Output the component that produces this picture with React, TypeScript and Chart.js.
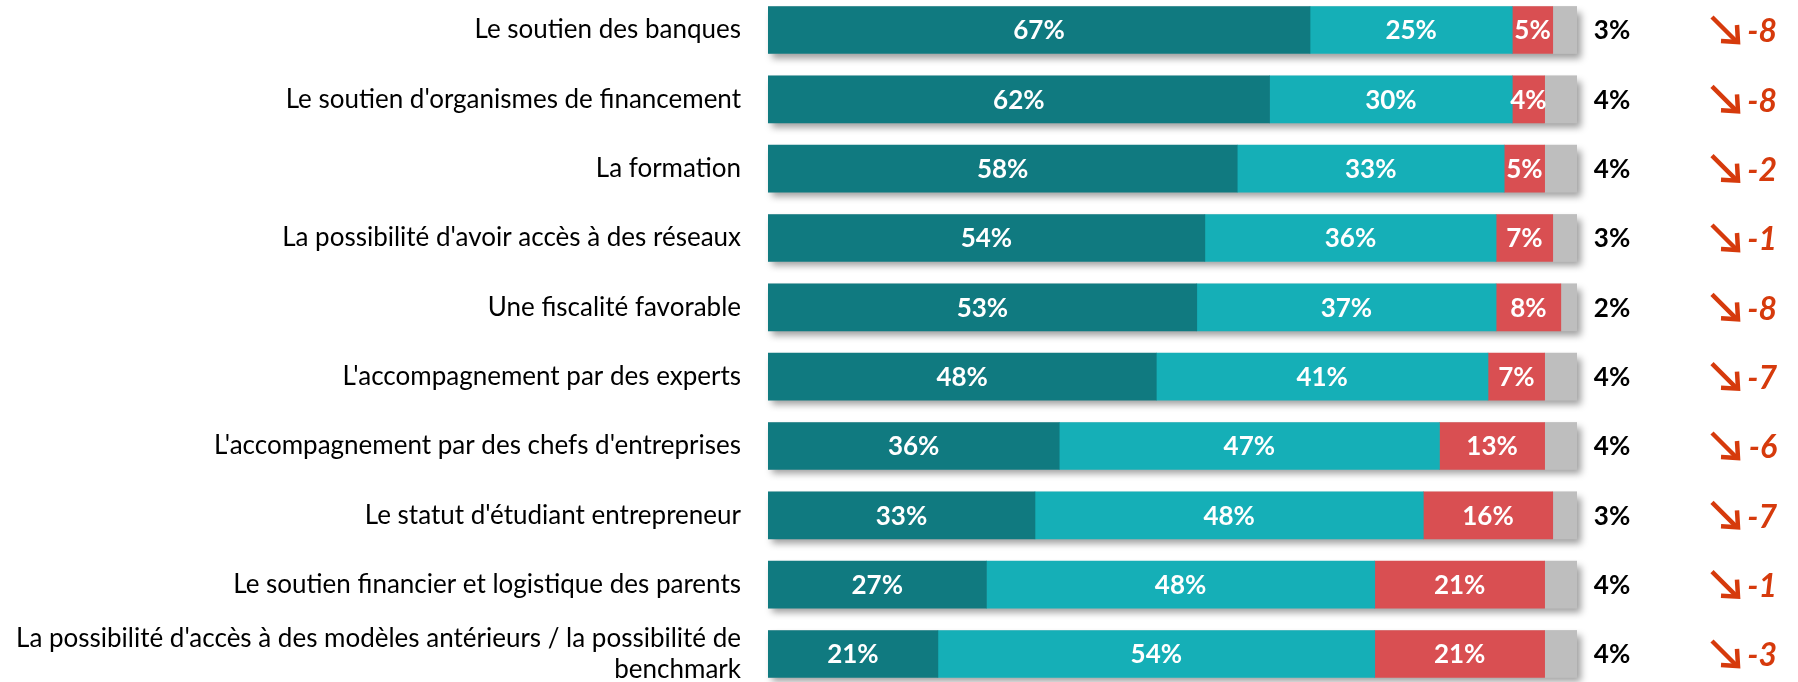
import React, { useEffect, useRef } from "react";
import { Chart, registerables } from "chart.js";

Chart.register(...registerables);

const categories: (string | string[])[] = [
  "Le soutien des banques",
  "Le soutien d'organismes de financement",
  "La formation",
  "La possibilité d'avoir accès à des réseaux",
  "Une fiscalité favorable",
  "L'accompagnement par des experts",
  "L'accompagnement par des chefs d'entreprises",
  "Le statut d'étudiant entrepreneur",
  "Le soutien financier et logistique des parents",
  ["La possibilité d'accès à des modèles antérieurs / la possibilité de", "benchmark"],
];

const seriesNames = ["Tout à fait", "Plutôt", "Pas vraiment", "Pas du tout"];
const valuesA = [67, 62, 58, 54, 53, 48, 36, 33, 27, 21];
const valuesB = [25, 30, 33, 36, 37, 41, 47, 48, 48, 54];
const valuesC = [5, 4, 5, 7, 8, 7, 13, 16, 21, 21];
const valuesD = [3, 4, 4, 3, 2, 4, 4, 3, 4, 4];
const deltas = [-8, -8, -2, -1, -8, -7, -6, -7, -1, -3];

const colors = ["#107A80", "#15AFB7", "#D94F52", "#BEBEBE"];
const deltaColor = "#D63A0C";
const FONT = "Lato, 'Open Sans', sans-serif";

const shadowPlugin = {
  id: "barShadow",
  beforeDatasetsDraw(chart: any) {
    const { ctx, scales } = chart;
    const xs = scales.x;
    const ys = scales.y;
    const x0 = xs.getPixelForValue(0);
    const x1 = xs.getPixelForValue(100);
    ctx.save();
    ctx.shadowColor = "rgba(0,0,0,0.38)";
    ctx.shadowBlur = 7;
    ctx.shadowOffsetX = 4;
    ctx.shadowOffsetY = 5;
    ctx.fillStyle = "#BEBEBE";
    categories.forEach((_, i) => {
      const y = ys.getPixelForValue(i);
      ctx.fillRect(x0, y - 23.5, x1 - x0, 47);
    });
    ctx.restore();
  },
};

const labelPlugin = {
  id: "barLabels",
  afterDatasetsDraw(chart: any) {
    const { ctx, scales } = chart;
    const ys = scales.y;
    const xs = scales.x;
    ctx.save();
    ctx.textBaseline = "middle";
    ctx.font = `26px ${FONT}`;
    ctx.fillStyle = "#000000";
    ctx.textAlign = "right";
    const labelX = xs.getPixelForValue(0) - 27;
    categories.forEach((c, i) => {
      const y = ys.getPixelForValue(i);
      const lines = Array.isArray(c) ? c : [c];
      const lh = 31;
      const start = y - ((lines.length - 1) * lh) / 2;
      lines.forEach((ln, k) => ctx.fillText(ln, labelX, start + k * lh));
    });
    ctx.font = `bold 26px ${FONT}`;
    ctx.fillStyle = "#FFFFFF";
    ctx.textAlign = "center";
    for (let d = 0; d < 3; d++) {
      const meta = chart.getDatasetMeta(d);
      meta.data.forEach((el: any, i: number) => {
        const { x, base, y } = el.getProps(["x", "base", "y"], true);
        const v = chart.data.datasets[d].data[i].x;
        ctx.fillText(`${v}%`, (x + base) / 2, y + 1);
      });
    }
    ctx.fillStyle = "#000000";
    valuesD.forEach((v, i) => {
      const y = ys.getPixelForValue(i);
      ctx.fillText(`${v}%`, 1612, y + 1);
    });
    deltas.forEach((d, i) => {
      const y = ys.getPixelForValue(i);
      ctx.font = `italic bold 32px ${FONT}`;
      ctx.fillStyle = deltaColor;
      ctx.textAlign = "right";
      ctx.fillText(`${d}`, 1777, y + 2);
      const tx = 1738;
      const ty = y + 12;
      ctx.strokeStyle = deltaColor;
      ctx.lineWidth = 4.5;
      ctx.lineCap = "butt";
      ctx.lineJoin = "miter";
      ctx.beginPath();
      ctx.moveTo(tx - 26, ty - 25);
      ctx.lineTo(tx - 2, ty - 1);
      ctx.stroke();
      ctx.beginPath();
      ctx.moveTo(tx - 17, ty - 1);
      ctx.lineTo(tx, ty);
      ctx.lineTo(tx - 1, ty - 17);
      ctx.stroke();
    });
    ctx.restore();
  },
};

export default function App() {
  const ref = useRef<HTMLCanvasElement>(null);

  useEffect(() => {
    document.body.style.margin = "0";
    const series = [valuesA, valuesB, valuesC, valuesD];
    const chart = new Chart(ref.current as HTMLCanvasElement, {
      type: "bar",
      data: {
        datasets: series.map((vals, d) => ({
          label: seriesNames[d],
          data: vals.map((v, i) => ({ x: v, y: i })),
          backgroundColor: colors[d],
          borderWidth: 0,
          barThickness: 47,
        })),
      },
      options: {
        indexAxis: "y",
        animation: false,
        responsive: false,
        devicePixelRatio: 1,
        layout: { padding: { left: 768, right: 221, top: 0, bottom: 0 } },
        plugins: { legend: { display: false }, tooltip: { enabled: false } },
        scales: {
          x: { type: "linear", display: false, stacked: true, min: 0, max: 100 },
          y: {
            type: "linear",
            display: false,
            offset: false,
            grace: 0,
            bounds: "data",
            stacked: true,
            reverse: true,
            min: -0.4327,
            max: 9.404,
          },
        },
      } as any,
      plugins: [shadowPlugin, labelPlugin],
    });
    return () => chart.destroy();
  }, []);

  return (
    <div style={{ width: 1798, height: 682 }}>
      <canvas ref={ref} width={1798} height={682} style={{ display: "block" }} />
    </div>
  );
}
